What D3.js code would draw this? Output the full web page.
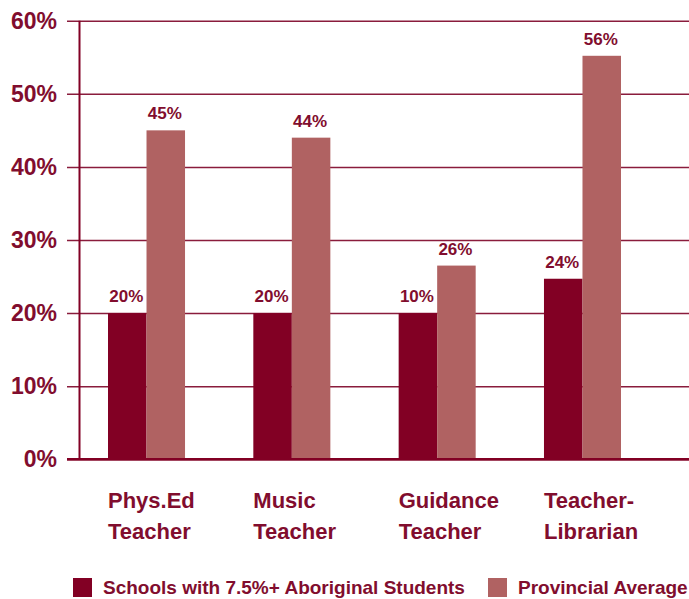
<!DOCTYPE html>
<html>
<head>
<meta charset="utf-8">
<script src="https://cdn.jsdelivr.net/npm/d3@7"></script>
<style>
  body { margin: 0; background: #fff; }
  text { font-family: "Liberation Sans", Arial, sans-serif; font-weight: bold; fill: #810d2e; }
</style>
</head>
<body>
<div id="chart-area"></div>
<script>
// data
let categories = ["Phys.Ed Teacher", "Music Teacher", "Guidance Teacher", "Teacher-Librarian"];
let catLines = [["Phys.Ed", "Teacher"], ["Music", "Teacher"], ["Guidance", "Teacher"], ["Teacher-", "Librarian"]];
let seriesNames = ["Schools with 7.5%+ Aboriginal Students", "Provincial Average"];
let schools = [20, 20, 20, 24.7];
let provincial = [45, 44, 26.5, 55.2];
let schoolsLabels = ["20%", "20%", "10%", "24%"];
let provincialLabels = ["45%", "44%", "26%", "56%"];
let yTicks = [0, 10, 20, 30, 40, 50, 60];

// Variable
let w = 689;
let h = 599;
let dark = "#820024";
let light = "#b06262";
let line = "#8a1c3c";

let svg = d3.select("#chart-area")
    .append("svg")
    .attr("width", w)
    .attr("height", h);

// scales
let x = d3.scaleBand()
    .domain(categories)
    .range([108, 621])
    .paddingInner(0.47)
    .paddingOuter(0);

let xs = d3.scaleBand()
    .domain(["s", "p"])
    .range([0, x.bandwidth()]);

let y = d3.scaleLinear()
    .domain([0, 60])
    .range([459.3, 20.7]);

// gridlines + tick labels
let yAxis = svg.append("g")
    .attr("transform", "translate(67,0)")
    .call(d3.axisLeft(y)
      .tickValues(yTicks)
      .tickSize(-(w - 67))
      .tickPadding(10)
      .tickFormat(function(d){ return d + "%"; }));

yAxis.select(".domain").remove();
yAxis.selectAll(".tick line")
    .attr("stroke", line)
    .attr("stroke-width", 1.5);
yAxis.selectAll(".tick text")
    .attr("font-size", 23)
    .attr("font-family", "Liberation Sans, Arial, sans-serif")
    .attr("font-weight", "bold")
    .attr("fill", "#810d2e");

// bars
let rows = categories.map(function(c, i){
  return {cat: c, s: schools[i], p: provincial[i], sl: schoolsLabels[i], pl: provincialLabels[i]};
});

let groups = svg.selectAll("g.grp")
    .data(rows)
    .enter()
    .append("g")
    .attr("class", "grp")
    .attr("transform", function(d){ return "translate(" + x(d.cat) + ",0)"; });

groups.append("rect")
    .attr("x", xs("s"))
    .attr("y", function(d){ return y(d.s); })
    .attr("width", xs.bandwidth())
    .attr("height", function(d){ return y(0) - y(d.s); })
    .attr("fill", dark);

groups.append("rect")
    .attr("x", xs("p"))
    .attr("y", function(d){ return y(d.p); })
    .attr("width", xs.bandwidth())
    .attr("height", function(d){ return y(0) - y(d.p); })
    .attr("fill", light);

// text on the bars
groups.append("text")
    .text(function(d){ return d.sl; })
    .attr("font-size", 17)
    .attr("text-anchor", "middle")
    .attr("x", xs("s") + xs.bandwidth() / 2 - 1)
    .attr("y", function(d){ return y(d.s) - 11; });

groups.append("text")
    .text(function(d){ return d.pl; })
    .attr("font-size", 17)
    .attr("text-anchor", "middle")
    .attr("x", xs("p") + xs.bandwidth() / 2 - 1)
    .attr("y", function(d){ return y(d.p) - 11; });

// axis lines
svg.append("line")
    .attr("x1", 79.5).attr("x2", 79.5)
    .attr("y1", y(60)).attr("y2", y(0))
    .attr("stroke", dark)
    .attr("stroke-width", 2);

svg.append("line")
    .attr("x1", 67).attr("x2", w)
    .attr("y1", y(0)).attr("y2", y(0))
    .attr("stroke", dark)
    .attr("stroke-width", 2.5);

// category labels
let catText = svg.selectAll("text.cat")
    .data(categories)
    .enter()
    .append("text")
    .attr("class", "cat")
    .attr("font-size", 22)
    .attr("x", function(d){ return x(d); })
    .attr("y", 508);

catText.each(function(d, i){
  d3.select(this).selectAll("tspan")
    .data(catLines[i])
    .enter()
    .append("tspan")
    .attr("x", x(d))
    .attr("dy", function(t, j){ return j === 0 ? 0 : 31; })
    .text(function(t){ return t; });
});

// legend
let legendX = [73, 488];
let legend = svg.selectAll("g.leg")
    .data(seriesNames)
    .enter()
    .append("g")
    .attr("class", "leg")
    .attr("transform", function(d, i){ return "translate(" + legendX[i] + ",578)"; });

legend.append("rect")
    .attr("width", 19)
    .attr("height", 19)
    .attr("fill", function(d, i){ return i === 0 ? dark : light; });

legend.append("text")
    .text(function(d){ return d; })
    .attr("font-size", 19)
    .attr("x", 30)
    .attr("y", 16);
</script>
</body>
</html>
